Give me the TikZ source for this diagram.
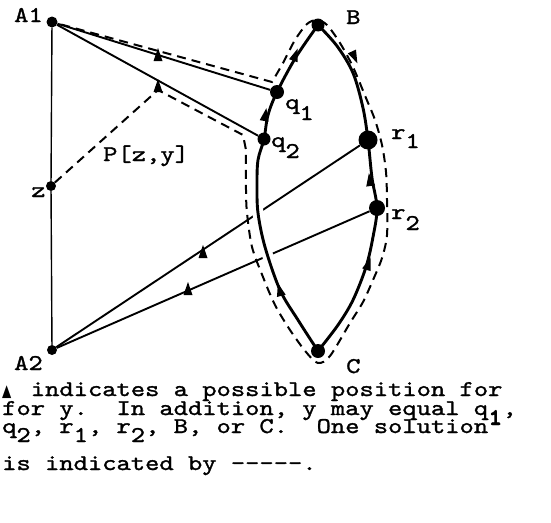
\documentclass[tikz,border=0pt]{standalone}
\usepackage{fontspec}
\usepackage{tikz}
\usetikzlibrary{shapes.geometric}
\newfontfamily\cour{lmmono10-regular}[Extension=.otf, FakeStretch=1.21, FakeBold=1.3]
\newfontfamily\dejavu{DejaVu Sans}
\newcommand\mysub[1]{\raisebox{-9pt}{#1}}
\newcommand\mylsub[1]{\raisebox{-11pt}{#1}}
\newcommand\mysup[1]{\raisebox{8pt}{#1}}
\pgfdeclarelayer{bg}
\pgfsetlayers{bg,main}
\begin{document}
\begin{tikzpicture}[x=1pt,y=-1pt,
  dot/.style={circle, fill=black, inner sep=0pt, minimum size=#1},
  lbl/.style={font=\cour\fontsize{22.5}{18}\selectfont\frenchspacing, inner sep=0pt, anchor=base west},
  ln/.style={line width=1.9pt},
  vln/.style={line width=1.4pt},
  arcln/.style={line width=2.9pt},
  dsh/.style={line width=2pt, dash pattern=on 9pt off 6pt},
  tri/.pic={\fill[black] (-4.5,5) -- (0,-8) -- (4.5,5) -- cycle;}]
\useasboundingbox (0,0) rectangle (551,522);

% points
\node[dot=11] (A1) at (52,22) {};
\node[dot=10] (z) at (51,186) {};
\node[dot=10] (A2) at (52,350) {};
\node[dot=13] (B) at (318,25) {};
\node[dot=14] (C) at (318,351) {};
\node[dot=14] (q1) at (277,92) {};
\node[dot=13] (q2) at (264,139) {};
\node[dot=19] (r1) at (368,140) {};
\node[dot=16] (r2) at (377,208) {};

% labels
\node[lbl] (lA1) at (14,22) {A1};
\node[lbl] (lz) at (31,197) {z};
\node[lbl] (lA2) at (14,370) {A2};
\node[lbl] (lB) at (346,24) {B};
\node[lbl] (lC) at (346,373) {C};
\node[lbl] (lq1) at (285,109) {q\mylsub{1}};
\node[lbl] (lq2) at (271,147) {q\mylsub{2}};
\node[lbl] (lr1) at (391,139) {r\mysub{1}};
\node[lbl] (lr2) at (391,219) {r\mylsub{2}};
\node[lbl] (lP) at (103,161) {P[z,y]};

\begin{pgfonlayer}{bg}
  \draw[vln] (A1) -- (z);
  \draw[vln] (z) -- (A2);
  \draw[ln] (A1) -- (q1);
  \draw[ln] (A1) -- (q2);
  \draw[ln] (A2) -- (r1);
  \draw[ln] (A2) -- (r2);
  % white halo where the lines pass behind the left arc
  \draw[white, line width=11pt] plot[smooth, tension=0.55] coordinates {(q2.center) (258,160) (257,185) (258,213) (265,247) (280,290)};
  % left arc
  \draw[arcln] plot[smooth, tension=0.55] coordinates {(B.center) (296,57) (q1.center) (268,115) (q2.center) (258,160) (257,185) (258,213) (265,247) (280,290) (298,320) (C.center)};
  % right arc
  \draw[arcln] plot[smooth, tension=0.55] coordinates {(B.center) (337,46) (353,73) (363,108) (r1.center) (372,178) (r2.center) (373,237) (366,267) (353,300) (338,325) (C.center)};
  % solution path
  \draw[dsh] (z) -- (158,90) -- (243,135) -- plot[smooth, tension=0.5] coordinates {(246,150) (246,190) (247,213) (252,247) (263,277) (275,305) (290,330) (306,352) (318,363) (330,356) (350,323) (363,302) (373,280) (382,258) (387,235) (387,200) (386,172) (382,145) (375,120) (366,98) (353,67) (340,43) (327,25) (317,20) (307,24) (295,40) (283,63) (272,82)} -- (A1);
\end{pgfonlayer}

% possible positions for y
\pic at (158,56) {tri};
\pic at (158,87) {tri};
\pic[rotate=-10] at (265,116) {tri};
\pic[rotate=-20] at (295,56) {tri};
\pic[rotate=205] at (354,56) {tri};
\pic[rotate=8] at (370,181) {tri};
\pic[rotate=-18] at (368,265) {tri};
\pic[rotate=15] at (280,291) {tri};
\pic at (203,253) {tri};
\pic at (188,290) {tri};

% caption
\node[lbl] (t1) at (2,396) {\makebox[14.3pt][l]{\scalebox{0.75}[1.05]{\dejavu\fontsize{16}{16}\selectfont ▲}}\ indicates a possible position for};
\node[lbl] (t2) at (2,415) {for y.\ \ In addition, y may equal q\mysub{1},};
\node[lbl] (t3) at (2,433) {q\mysub{2}, r\mysub{1}, r\mysub{2}, B, or C.\ \ One solution\mysup{1}};
\node[lbl] (t4) at (2,470) {is indicated by -{}-{}-{}-{}-.};
\end{tikzpicture}
\end{document}
